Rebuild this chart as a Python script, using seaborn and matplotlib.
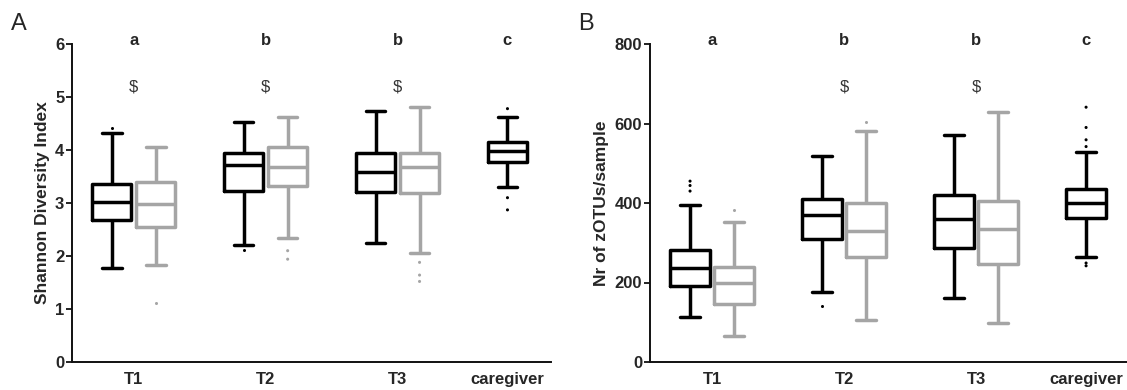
import numpy as np
import pandas as pd
import matplotlib
matplotlib.use("Agg")
import matplotlib.pyplot as plt
import seaborn as sns

sns.set_style("white")
plt.rcParams['font.family'] = ['Liberation Sans', 'DejaVu Sans']

# ---------------- data ----------------
slot_order = ['T1 g1', 'T1 g2', 'gap1', 'T2 g1', 'T2 g2', 'gap2', 'T3 g1', 'T3 g2', 'gap3', 'caregiver']
box_slots = ['T1 g1', 'T1 g2', 'T2 g1', 'T2 g2', 'T3 g1', 'T3 g2', 'caregiver']
box_groups = ['g1', 'g2', 'g1', 'g2', 'g1', 'g2', 'g1']
tick_labels = ['T1', 'T2', 'T3', 'caregiver']
sig_letters = ['a', 'b', 'b', 'c']

# Panel A: Shannon diversity (whisker low, Q1, median, Q3, whisker high)
shannon_low = [1.77, 1.83, 2.20, 2.34, 2.24, 2.05, 3.31]
shannon_q1 = [2.67, 2.54, 3.23, 3.32, 3.20, 3.18, 3.78]
shannon_med = [3.01, 2.98, 3.71, 3.67, 3.59, 3.67, 3.98]
shannon_q3 = [3.36, 3.39, 3.94, 4.05, 3.94, 3.95, 4.16]
shannon_high = [4.33, 4.06, 4.52, 4.63, 4.74, 4.81, 4.62]
shannon_out_box = [0, 1, 2, 3, 3, 5, 5, 5, 6, 6, 6]
shannon_out_val = [4.41, 1.12, 2.12, 2.10, 1.94, 1.88, 1.64, 1.52, 4.78, 3.10, 2.87]
shannon_dollar = [True, True, True, False]

# Panel B: number of zOTUs per sample
zotu_low = [112, 66, 175, 106, 162, 98, 264]
zotu_q1 = [190, 147, 309, 263, 286, 247, 363]
zotu_med = [236, 198, 369, 330, 359, 334, 401]
zotu_q3 = [282, 238, 410, 401, 420, 406, 436]
zotu_high = [394, 352, 518, 580, 571, 628, 529]
zotu_out_box = [0, 0, 0, 1, 2, 3, 6, 6, 6, 6, 6, 6]
zotu_out_val = [455, 444, 430, 383, 142, 604, 641, 590, 559, 542, 249, 242]
zotu_dollar = [False, True, True, False]

palette = {'g1': '#000000', 'g2': '#a5a5a5'}


def make_frames(low, q1, med, q3, high, out_box, out_val):
    rows = []
    for i, s in enumerate(box_slots):
        for v in (low[i], q1[i], med[i], q3[i], high[i]):
            rows.append({'slot': s, 'group': box_groups[i], 'value': v})
    box_df = pd.DataFrame(rows)
    out_df = pd.DataFrame({'slot': [box_slots[b] for b in out_box],
                           'group': [box_groups[b] for b in out_box],
                           'value': out_val})
    return box_df, out_df


fig = plt.figure(figsize=(11.27, 3.9), dpi=100)
axA = fig.add_axes([72 / 1127, 28 / 390, (551 - 72) / 1127, 318 / 390])
axB = fig.add_axes([650 / 1127, 28 / 390, (1127 - 650) / 1127, 318 / 390])

panels = [
    (axA, make_frames(shannon_low, shannon_q1, shannon_med, shannon_q3, shannon_high,
                      shannon_out_box, shannon_out_val),
     'Shannon Diversity Index', (0, 6), np.arange(0, 7, 1), (-0.905, 9.99), shannon_dollar),
    (axB, make_frames(zotu_low, zotu_q1, zotu_med, zotu_q3, zotu_high,
                      zotu_out_box, zotu_out_val),
     'Nr of zOTUs/sample', (0, 800), np.arange(0, 801, 200), (-0.91, 9.93), zotu_dollar),
]

for ax, (box_df, out_df), ylabel, ylim, yticks, xlim, dollars in panels:
    sns.boxplot(data=box_df, x='slot', y='value', hue='group', order=slot_order,
                hue_order=['g1', 'g2'], palette=palette, dodge=False, fill=False,
                width=0.89, whis=(0, 100), linewidth=2.5, showfliers=False,
                legend=False, ax=ax)
    sns.stripplot(data=out_df, x='slot', y='value', hue='group', order=slot_order,
                  hue_order=['g1', 'g2'], palette=palette, dodge=False, jitter=False,
                  size=2.2, legend=False, ax=ax)
    ax.set_ylim(*ylim)
    ax.set_xlim(*xlim)
    ax.set_yticks(yticks)
    ax.set_yticklabels([str(int(t)) for t in yticks], fontweight='bold', fontsize=12)
    ax.set_xticks([0.5, 3.5, 6.5, 9])
    ax.set_xticklabels(tick_labels, fontweight='bold', fontsize=12)
    ax.set_xlabel('')
    ax.set_ylabel(ylabel, fontweight='bold', fontsize=12.5, labelpad=4)
    for side in ('top', 'right'):
        ax.spines[side].set_visible(False)
    for side in ('left', 'bottom'):
        ax.spines[side].set_linewidth(1.4)
        ax.spines[side].set_color('#111111')
    ax.tick_params(axis='y', which='major', left=True, length=4, width=1.3, pad=1.5, color='#111111')
    ax.tick_params(axis='x', which='major', bottom=False, length=0, pad=7)
    span = ylim[1] - ylim[0]
    for xpos, let, dol in zip([0.5, 3.5, 6.5, 9], sig_letters, dollars):
        ax.text(xpos, ylim[1] + span * 0.012, let, ha='center', va='center',
                fontweight='bold', fontsize=12, clip_on=False)
        if dol:
            ax.text(xpos, ylim[0] + span * 0.865, '$', ha='center', va='center',
                    fontsize=12, color='#333333', clip_on=False)
    ax.patch.set_alpha(0)

fig.text(11 / 1127, 1 - 24 / 390, 'A', fontsize=17, ha='left', va='center')
fig.text(578 / 1127, 1 - 24 / 390, 'B', fontsize=17, ha='left', va='center')

fig.savefig('out.png', dpi=100, facecolor='white')
